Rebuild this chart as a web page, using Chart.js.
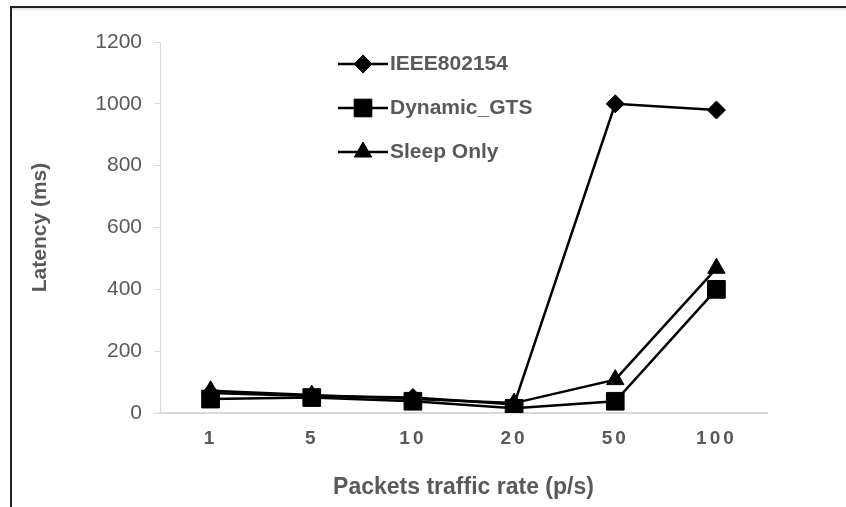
<!DOCTYPE html>
<html>
<head>
<meta charset="utf-8">
<script src="https://cdn.jsdelivr.net/npm/chart.js@4.4.0/dist/chart.umd.min.js"></script>
<style>
    body { margin: 0; background: #fff; }
    #wrap { position: relative; width: 846px; height: 507px; }
    #frame {
        position: absolute; left: 10px; top: 6px; right: 0; bottom: 0;
        border-top: 2px solid #222; border-left: 2px solid #222;
        box-shadow: inset 0 2px 0 #e6e6e6;
        pointer-events: none;
    }
</style>
</head>
<body>
<div id="wrap">
    <canvas id="Chart1" width="846" height="507"></canvas>
    <div id="frame"></div>
</div>
<script>
const rates = ['1', '5', '10', '20', '50', '100'];
const ieee802154 = [65, 55, 50, 28, 1000, 980];
const dynamicGts = [45, 50, 38, 15, 38, 400];
const sleepOnly = [72, 58, 45, 32, 108, 468];
const yTicks = [0, 200, 400, 600, 800, 1000, 1200];

Chart.defaults.font.family = '"Liberation Sans", Arial, sans-serif';
Chart.defaults.color = '#595959';

// legend drawn inside the plot: short line with the marker on it
const lineLegend = {
    id: 'lineLegend',
    afterDraw(chart) {
        const ctx = chart.ctx;
        const x0 = chart.chartArea.left + 178;
        let y = chart.chartArea.top + 22;
        ctx.save();
        chart.data.datasets.forEach(ds => {
            ctx.strokeStyle = '#000';
            ctx.lineWidth = 2.5;
            ctx.beginPath();
            ctx.moveTo(x0, y);
            ctx.lineTo(x0 + 50, y);
            ctx.stroke();
            ctx.fillStyle = '#000';
            ctx.lineWidth = 1;
            Chart.helpers.drawPoint(ctx, { pointStyle: ds.pointStyle, radius: ds.pointRadius, borderWidth: 1 }, x0 + 25, y);
            ctx.font = 'bold 21px "Liberation Sans", Arial, sans-serif';
            ctx.fillStyle = '#595959';
            ctx.textBaseline = 'middle';
            ctx.textAlign = 'left';
            ctx.fillText(ds.label, x0 + 52, y);
            y += 44;
        });
        ctx.restore();
    }
};

// x tick labels are letter spaced in the original
const spacedTicks = {
    id: 'spacedTicks',
    beforeDraw(chart) {
        const xs = chart.scales.x;
        if (xs._spaced) return;
        const orig = xs.drawLabels.bind(xs);
        xs.drawLabels = function (area) {
            this.ctx.save();
            this.ctx.letterSpacing = '3px';
            orig(area);
            this.ctx.restore();
        };
        xs._spaced = true;
    }
};

function series(label, data, style, radius) {
    return {
        label: label,
        data: data,
        borderColor: '#000',
        backgroundColor: '#000',
        borderWidth: 2.5,
        pointStyle: style,
        pointRadius: radius,
        pointHoverRadius: radius,
        pointBackgroundColor: '#000',
        pointBorderColor: '#000',
        pointBorderWidth: 1,
        tension: 0,
    };
}

const ctx = document.getElementById('Chart1');
new Chart(ctx, {
    type: 'line',
    data: {
        labels: rates,
        datasets: [
            series('IEEE802154', ieee802154, 'rectRot', 9),
            series('Dynamic_GTS', dynamicGts, 'rect', 12.5),
            series('Sleep Only', sleepOnly, 'triangle', 10),
        ],
    },
    options: {
        responsive: false,
        animation: false,
        devicePixelRatio: 1,
        layout: { padding: { top: 42, right: 79, bottom: 0, left: 0 } },
        plugins: {
            legend: { display: false },
            tooltip: { enabled: false },
        },
        scales: {
            x: {
                offset: true,
                grid: { display: false, drawTicks: false, offset: true },
                border: { color: '#d9d9d9', width: 2 },
                ticks: {
                    padding: 14,
                    font: { size: 19, weight: 'bold' },
                },
                title: {
                    display: true,
                    text: 'Packets traffic rate (p/s)',
                    font: { size: 23, weight: 'bold' },
                    padding: { top: 0, bottom: 6 },
                },
                afterFit(scale) { scale.height = 94; },
            },
            y: {
                min: yTicks[0],
                max: yTicks[yTicks.length - 1],
                grid: { drawOnChartArea: false, drawTicks: true, tickLength: 6, color: '#d9d9d9' },
                border: { color: '#d9d9d9', width: 1 },
                ticks: {
                    stepSize: yTicks[1] - yTicks[0],
                    padding: 12,
                    font: { size: 21 },
                    callback: (v) => String(v),
                },
                title: {
                    display: true,
                    text: 'Latency (ms)',
                    font: { size: 21, weight: 'bold' },
                    padding: { top: 28, bottom: 0 },
                },
                afterFit(scale) { scale.width = 160; },
            },
        },
    },
    plugins: [lineLegend, spacedTicks],
});
</script>
</body>
</html>
